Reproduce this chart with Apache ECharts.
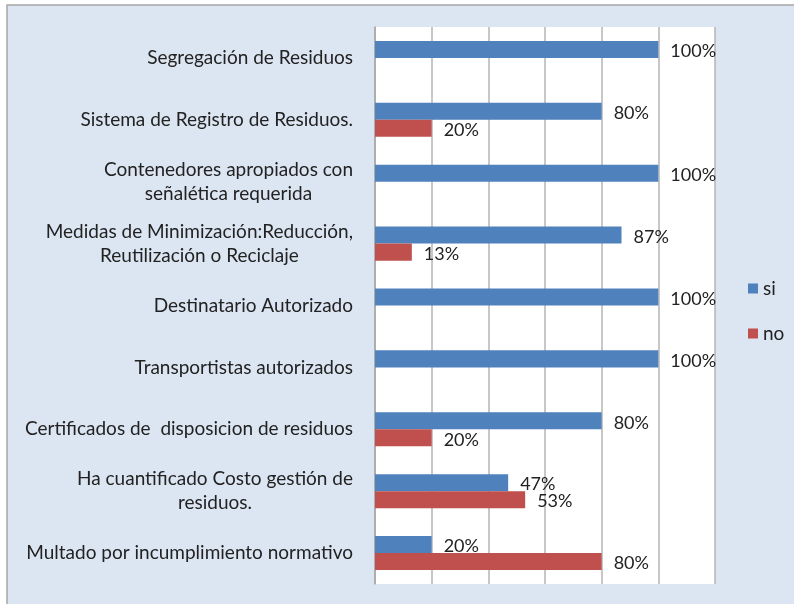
<!DOCTYPE html>
<html>
<head>
<meta charset="utf-8">
<script src="https://cdn.jsdelivr.net/npm/echarts@6/dist/echarts.min.js"></script>
<style>
  html, body { margin: 0; padding: 0; background: #fff; }
  #chart { width: 794px; height: 604px; }
</style>
</head>
<body>
<div id="chart"></div>
<script>
// categorias (de arriba a abajo)
const categorias = [
    'Segregación de Residuos',
    'Sistema de Registro de Residuos.',
    'Contenedores apropiados con\nseñalética requerida',
    'Medidas de Minimización:Reducción,\nReutilización o Reciclaje',
    'Destinatario Autorizado',
    'Transportistas autorizados',
    'Certificados de  disposicion de residuos',
    'Ha cuantificado Costo gestión de\nresiduos.',
    'Multado por incumplimiento normativo'
]
const valoresSi = [100, 80, 100, 87, 100, 100, 80, 47, 20]
const valoresNo = [0, 20, 0, 13, 0, 0, 20, 53, 80]
const ticksX = [0, 20, 40, 60, 80, 100, 120]

const fuente = 'Lato'
const tam = 19
const chart = echarts.init(document.getElementById('chart'))

const etiqueta = {
    show: true,
    position: 'right',
    distance: 12,
    offset: [0, 2],
    color: '#222',
    fontFamily: fuente,
    fontSize: 18,
    formatter: p => p.value > 0 ? p.value + '%' : ''
}

const option = {
    backgroundColor: '#fff',
    animation: false,
    graphic: [{
        type: 'rect',
        z: -10,
        shape: { x: 7, y: 5, width: 800, height: 610 },
        style: { fill: '#dce6f2', stroke: '#a6a6a6', lineWidth: 1.5 }
    }],
    legend: {
        orient: 'vertical',
        left: 743,
        top: 274,
        itemWidth: 10,
        itemHeight: 10,
        itemGap: 26,
        icon: 'rect',
        textStyle: { fontFamily: fuente, fontSize: tam, color: '#222' },
        data: ['si', 'no']
    },
    grid: {
        left: 375,
        top: 27,
        right: 79,
        bottom: 20,
        show: true,
        backgroundColor: '#fff',
        borderWidth: 0
    },
    xAxis: {
        type: 'value',
        min: ticksX[0],
        max: ticksX[ticksX.length - 1],
        interval: 20,
        axisLabel: { show: false },
        axisLine: { show: false },
        axisTick: { show: false },
        splitLine: { lineStyle: { color: '#b5b5b5', width: 1.5 } }
    },
    yAxis: {
        type: 'category',
        inverse: true,
        data: categorias,
        axisLine: { lineStyle: { color: '#a6a6a6', width: 1.5 } },
        axisTick: { length: 6, lineStyle: { color: '#a6a6a6', width: 1.5 } },
        axisLabel: {
            margin: 22,
            color: '#222',
            fontFamily: fuente,
            fontSize: tam,
            lineHeight: 24,
            formatter: v => v.split('\n').map(l => '{c|' + l + '}').join('\n'),
            rich: { c: { align: 'center', fontFamily: fuente, fontSize: tam, lineHeight: 24, color: '#222' } }
        }
    },
    series: [
        {
            name: 'si',
            type: 'bar',
            data: valoresSi,
            barGap: 0,
            barCategoryGap: '45%',
            itemStyle: { color: '#4f81bd' },
            label: etiqueta
        },
        {
            name: 'no',
            type: 'bar',
            data: valoresNo,
            barGap: 0,
            barCategoryGap: '45%',
            itemStyle: { color: '#c0504d' },
            label: etiqueta
        }
    ]
}
chart.setOption(option)
</script>
</body>
</html>
